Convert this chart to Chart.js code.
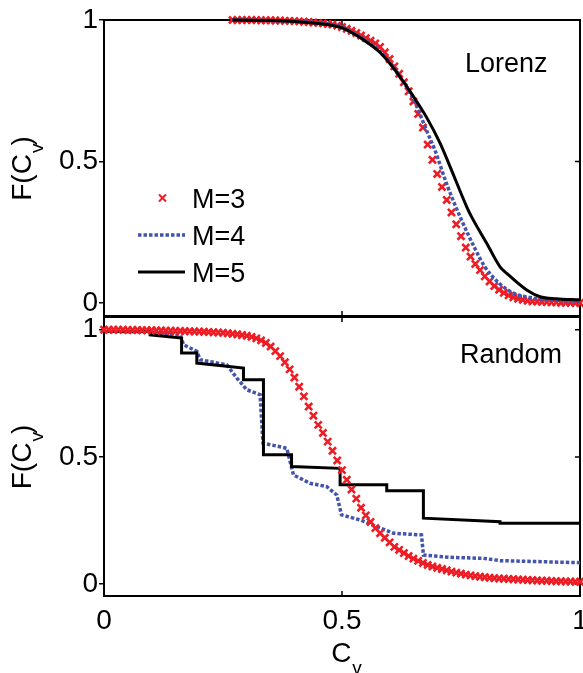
<!DOCTYPE html>
<html>
<head>
<meta charset="utf-8">
<script src="https://cdn.jsdelivr.net/npm/chart.js@4/dist/chart.umd.min.js"></script>
<style>
  html, body { margin: 0; padding: 0; background: #fff; overflow: hidden; }
  body { width: 583px; height: 673px; position: relative; }
  canvas { position: absolute; left: 0; }
  #topChart { top: 0; }
  #bottomChart { top: 290px; }
</style>
</head>
<body>
<canvas id="topChart" width="600" height="340"></canvas>
<canvas id="bottomChart" width="600" height="383"></canvas>
<script>
// tick positions shared by both panels
const cvTicks = [0, 0.5, 1];
const fTicks = [0, 0.5, 1];
const seriesNames = ['M=3', 'M=4', 'M=5'];

// Lorenz panel
const cvTopM3 = [0.27,0.28,0.29,0.30,0.31,0.32,0.33,0.34,0.35,0.36,
  0.37,0.38,0.39,0.40,0.41,0.42,0.43,0.44,0.45,0.46,
  0.47,0.48,0.49,0.50,0.51,0.52,0.53,0.54,0.55,0.56,
  0.57,0.58,0.59,0.60,0.61,0.62,0.63,0.64,0.65,0.66,
  0.67,0.68,0.69,0.70,0.71,0.72,0.73,0.74,0.75,0.76,
  0.77,0.78,0.79,0.80,0.81,0.82,0.83,0.84,0.85,0.86,
  0.87,0.88,0.89,0.90,0.91,0.92,0.93,0.94,0.95,0.96,
  0.97,0.98,0.99,1.00];
const fTopM3 = [1.000,1.000,1.000,1.000,1.000,1.000,0.999,0.999,0.999,0.998,
  0.998,0.997,0.997,0.996,0.995,0.994,0.993,0.991,0.990,0.988,
  0.986,0.984,0.980,0.975,0.969,0.962,0.954,0.945,0.936,0.927,
  0.917,0.905,0.886,0.862,0.836,0.810,0.780,0.748,0.712,0.668,
  0.620,0.560,0.506,0.456,0.410,0.364,0.320,0.278,0.236,0.196,
  0.164,0.138,0.116,0.094,0.076,0.060,0.047,0.036,0.027,0.020,
  0.015,0.011,0.008,0.006,0.005,0.004,0.003,0.002,0.002,0.001,
  0.001,0.001,0.000,0.000];
const cvTopM4 = [0.27,0.35,0.40,0.45,0.50,0.545,0.58,0.615,0.65,0.68,0.695,0.72,0.748,0.78,0.80,0.83,0.86,0.90,0.95,1.00];
const fTopM4 = [1.000,0.998,0.995,0.990,0.975,0.932,0.890,0.815,0.720,0.600,0.541,0.420,0.305,0.190,0.128,0.070,0.035,0.018,0.010,0.006];
const cvTopM5 = [0.27,0.35,0.40,0.45,0.475,0.50,0.545,0.58,0.615,0.65,0.678,0.706,0.727,0.762,0.772,0.804,0.832,0.846,0.888,0.916,0.95,1.00];
const fTopM5 = [1.000,0.998,0.995,0.988,0.982,0.972,0.930,0.885,0.815,0.730,0.655,0.565,0.482,0.340,0.305,0.211,0.128,0.105,0.046,0.022,0.015,0.011];

// Random panel
const cvBotM3 = [0.00,0.01,0.02,0.03,0.04,0.05,0.06,0.07,0.08,0.09,
  0.10,0.11,0.12,0.13,0.14,0.15,0.16,0.17,0.18,0.19,
  0.20,0.21,0.22,0.23,0.24,0.25,0.26,0.27,0.28,0.29,
  0.30,0.31,0.32,0.33,0.34,0.35,0.36,0.37,0.38,0.39,
  0.40,0.41,0.42,0.43,0.44,0.45,0.46,0.47,0.48,0.49,
  0.50,0.51,0.52,0.53,0.54,0.55,0.56,0.57,0.58,0.59,
  0.60,0.61,0.62,0.63,0.64,0.65,0.66,0.67,0.68,0.69,
  0.70,0.71,0.72,0.73,0.74,0.75,0.76,0.77,0.78,0.79,
  0.80,0.81,0.82,0.83,0.84,0.85,0.86,0.87,0.88,0.89,
  0.90,0.91,0.92,0.93,0.94,0.95,0.96,0.97,0.98,0.99,1.00];
const fBotM3 = [1.000,1.000,1.000,1.000,1.000,0.999,0.999,0.999,0.998,0.998,
  0.998,0.997,0.997,0.996,0.996,0.995,0.995,0.994,0.994,0.993,
  0.993,0.992,0.991,0.990,0.989,0.988,0.986,0.984,0.982,0.979,
  0.976,0.972,0.966,0.958,0.948,0.934,0.916,0.896,0.872,0.844,
  0.812,0.776,0.738,0.698,0.662,0.626,0.594,0.560,0.524,0.486,
  0.448,0.410,0.372,0.336,0.300,0.270,0.244,0.220,0.200,0.182,
  0.164,0.146,0.134,0.122,0.110,0.100,0.091,0.083,0.075,0.069,
  0.064,0.059,0.054,0.049,0.045,0.041,0.037,0.034,0.031,0.029,
  0.027,0.025,0.023,0.022,0.021,0.020,0.019,0.018,0.017,0.016,
  0.015,0.014,0.013,0.013,0.012,0.011,0.011,0.010,0.010,0.009,0.009];
const cvBotM4 = [0,0.09,0.16,0.167,0.195,0.202,0.258,0.279,0.30,0.328,0.334,0.384,0.398,0.433,0.468,0.489,0.499,0.538,0.573,0.608,0.667,0.671,0.727,0.797,0.832,1.00];
const fBotM4 = [0.993,0.992,0.980,0.941,0.915,0.882,0.862,0.810,0.764,0.744,0.554,0.534,0.429,0.396,0.383,0.350,0.272,0.252,0.226,0.200,0.193,0.114,0.105,0.101,0.092,0.084];
const cvBotM5 = [0,0.097,0.097,0.163,0.163,0.195,0.195,0.293,0.293,0.335,0.335,0.394,0.394,0.496,0.496,0.594,0.594,0.671,0.671,0.832,0.832,1.00];
const fBotM5 = [0.993,0.993,0.980,0.967,0.908,0.908,0.869,0.849,0.803,0.803,0.508,0.508,0.462,0.455,0.390,0.390,0.367,0.367,0.259,0.245,0.239,0.239];

const FONT = '"Liberation Sans", Arial, Helvetica, sans-serif';
const RED = '#ee1c24';
const BLUE = '#4254ab';

function pts(xs, ys) {
  return xs.map((x, i) => ({ x: x, y: ys[i] }));
}

function markerSet(xs, ys) {
  return {
    label: seriesNames[0], data: pts(xs, ys), showLine: false,
    pointStyle: 'crossRot', pointRadius: 5, pointBorderWidth: 2.6,
    pointBorderColor: RED, pointBackgroundColor: RED, clip: false
  };
}

function dottedSet(xs, ys, smooth) {
  return {
    label: seriesNames[1], data: pts(xs, ys), showLine: true,
    borderColor: BLUE, borderWidth: 3.5, borderDash: [3.5, 2],
    pointRadius: 0, cubicInterpolationMode: smooth ? 'monotone' : 'default', clip: false
  };
}

function solidSet(xs, ys, smooth) {
  return {
    label: seriesNames[2], data: pts(xs, ys), showLine: true,
    borderColor: '#000', borderWidth: 3,
    pointRadius: 0, cubicInterpolationMode: smooth ? 'monotone' : 'default', clip: false
  };
}

function yAxis(min, max) {
  return {
    type: 'linear', min: min, max: max,
    afterBuildTicks: s => { s.ticks = fTicks.map(v => ({ value: v })); },
    afterFit: s => { s.width = 104; },
    ticks: { color: '#000', font: { family: FONT, size: 28 }, padding: 1, callback: v => String(v) },
    grid: { drawOnChartArea: false, drawTicks: true, tickLength: 5, color: '#000', lineWidth: 1.5 },
    border: { display: false }
  };
}

// box round the plot and the inward ticks on the right, top and bottom edges
const framePlugin = {
  id: 'frame',
  beforeDatasetsDraw(chart) {
    const ctx = chart.ctx, a = chart.chartArea;
    const xs = chart.scales.x, ys = chart.scales.y;
    ctx.save();
    ctx.strokeStyle = '#000';
    ctx.lineWidth = 2;
    ctx.strokeRect(a.left, a.top, a.right - a.left, a.bottom - a.top);
    ctx.lineWidth = 1.5;
    ctx.beginPath();
    fTicks.forEach(v => {
      const y = ys.getPixelForValue(v);
      ctx.moveTo(a.right - 5, y); ctx.lineTo(a.right, y);
    });
    cvTicks.forEach(v => {
      const x = xs.getPixelForValue(v);
      ctx.moveTo(x, a.top); ctx.lineTo(x, a.top + 5);
      ctx.moveTo(x, a.bottom); ctx.lineTo(x, a.bottom - 5);
    });
    ctx.stroke();
    ctx.restore();
  }
};

// main text with a subscript, e.g. F(C_v)
function subText(ctx, x, y, main, sub, tail) {
  ctx.font = '28px ' + FONT;
  const wm = ctx.measureText(main).width;
  const wt = tail ? ctx.measureText(tail).width : 0;
  ctx.font = '19px ' + FONT;
  const ws = ctx.measureText(sub).width;
  const total = wm + ws + wt;
  let x0 = x - total / 2;
  ctx.font = '28px ' + FONT;
  ctx.fillText(main, x0, y);
  ctx.font = '19px ' + FONT;
  ctx.fillText(sub, x0 + wm + 1, y + 12);
  if (tail) {
    ctx.font = '28px ' + FONT;
    ctx.fillText(tail, x0 + wm + ws - 1, y);
  }
}

const textPlugin = {
  id: 'panelText',
  afterDraw(chart, args, opts) {
    const ctx = chart.ctx, a = chart.chartArea;
    ctx.save();
    ctx.fillStyle = '#000';
    ctx.textBaseline = 'alphabetic';
    ctx.textAlign = 'left';
    // panel name
    ctx.font = '27px ' + FONT;
    ctx.fillText(opts.name, opts.nameX, a.top + opts.nameDy);
    // y title
    ctx.save();
    ctx.translate(31, (a.top + a.bottom) / 2);
    ctx.rotate(-Math.PI / 2);
    subText(ctx, 0, 0, 'F(C', 'v', ')');
    ctx.restore();
    // x title
    if (opts.xTitle) {
      const cx = chart.scales.x.getPixelForValue(0.5) + 4;
      subText(ctx, cx, a.bottom + 66, 'C', 'v', '');
    }
    // legend
    if (opts.legend) {
      const L = opts.legend;
      chart.data.datasets.forEach((ds, i) => {
        const y = L.top + i * L.gap;
        ctx.save();
        if (i === 0) {
          const cx = (L.left + L.right) / 2 + 1;
          ctx.strokeStyle = RED; ctx.lineWidth = 2;
          ctx.beginPath();
          ctx.moveTo(cx - 3.5, y - 3.5); ctx.lineTo(cx + 3.5, y + 3.5);
          ctx.moveTo(cx - 3.5, y + 3.5); ctx.lineTo(cx + 3.5, y - 3.5);
          ctx.stroke();
        } else {
          ctx.strokeStyle = ds.borderColor;
          ctx.lineWidth = ds.borderWidth;
          if (ds.borderDash) ctx.setLineDash(ds.borderDash);
          ctx.beginPath();
          ctx.moveTo(L.left, y); ctx.lineTo(L.right, y);
          ctx.stroke();
        }
        ctx.restore();
        ctx.font = '27px ' + FONT;
        ctx.fillText(ds.label, L.right + 7, y + 10);
      });
    }
    ctx.restore();
  }
};

Chart.register(framePlugin, textPlugin);

const topChart = new Chart(document.getElementById('topChart'), {
  type: 'scatter',
  data: {
    datasets: [
      Object.assign(markerSet(cvTopM3, fTopM3), { order: 2 }),
      Object.assign(dottedSet(cvTopM4, fTopM4, true), { order: 1 }),
      Object.assign(solidSet(cvTopM5, fTopM5, true), { order: 0 })
    ]
  },
  options: {
    responsive: false,
    animation: false,
    events: [],
    layout: { padding: { top: 20, right: 20, bottom: 24, left: 0 } },
    scales: {
      x: { type: 'linear', min: 0, max: 1, display: false },
      y: yAxis(-0.046, 1)
    },
    plugins: {
      legend: { display: false },
      tooltip: { enabled: false },
      panelText: {
        name: 'Lorenz', nameX: 465, nameDy: 52,
        legend: { left: 138, right: 185, top: 198, gap: 37 }
      }
    }
  }
});

const bottomChart = new Chart(document.getElementById('bottomChart'), {
  type: 'scatter',
  data: {
    datasets: [
      Object.assign(markerSet(cvBotM3, fBotM3), { order: 0 }),
      Object.assign(dottedSet(cvBotM4, fBotM4, false), { order: 2 }),
      Object.assign(solidSet(cvBotM5, fBotM5, false), { order: 1 })
    ]
  },
  options: {
    responsive: false,
    animation: false,
    events: [],
    layout: { padding: { top: 27, right: 20, bottom: 0, left: 0 } },
    scales: {
      x: {
        type: 'linear', min: 0, max: 1,
        afterBuildTicks: s => { s.ticks = cvTicks.map(v => ({ value: v })); },
        afterFit: s => { s.height = 77; },
        ticks: { color: '#000', font: { family: FONT, size: 28 }, padding: 8, maxRotation: 0, callback: v => String(v) },
        grid: { drawOnChartArea: false, drawTicks: false },
        border: { display: false }
      },
      y: yAxis(-0.047, 1.05)
    },
    plugins: {
      legend: { display: false },
      tooltip: { enabled: false },
      panelText: { name: 'Random', nameX: 460, nameDy: 46, xTitle: true }
    }
  }
});
</script>
</body>
</html>
